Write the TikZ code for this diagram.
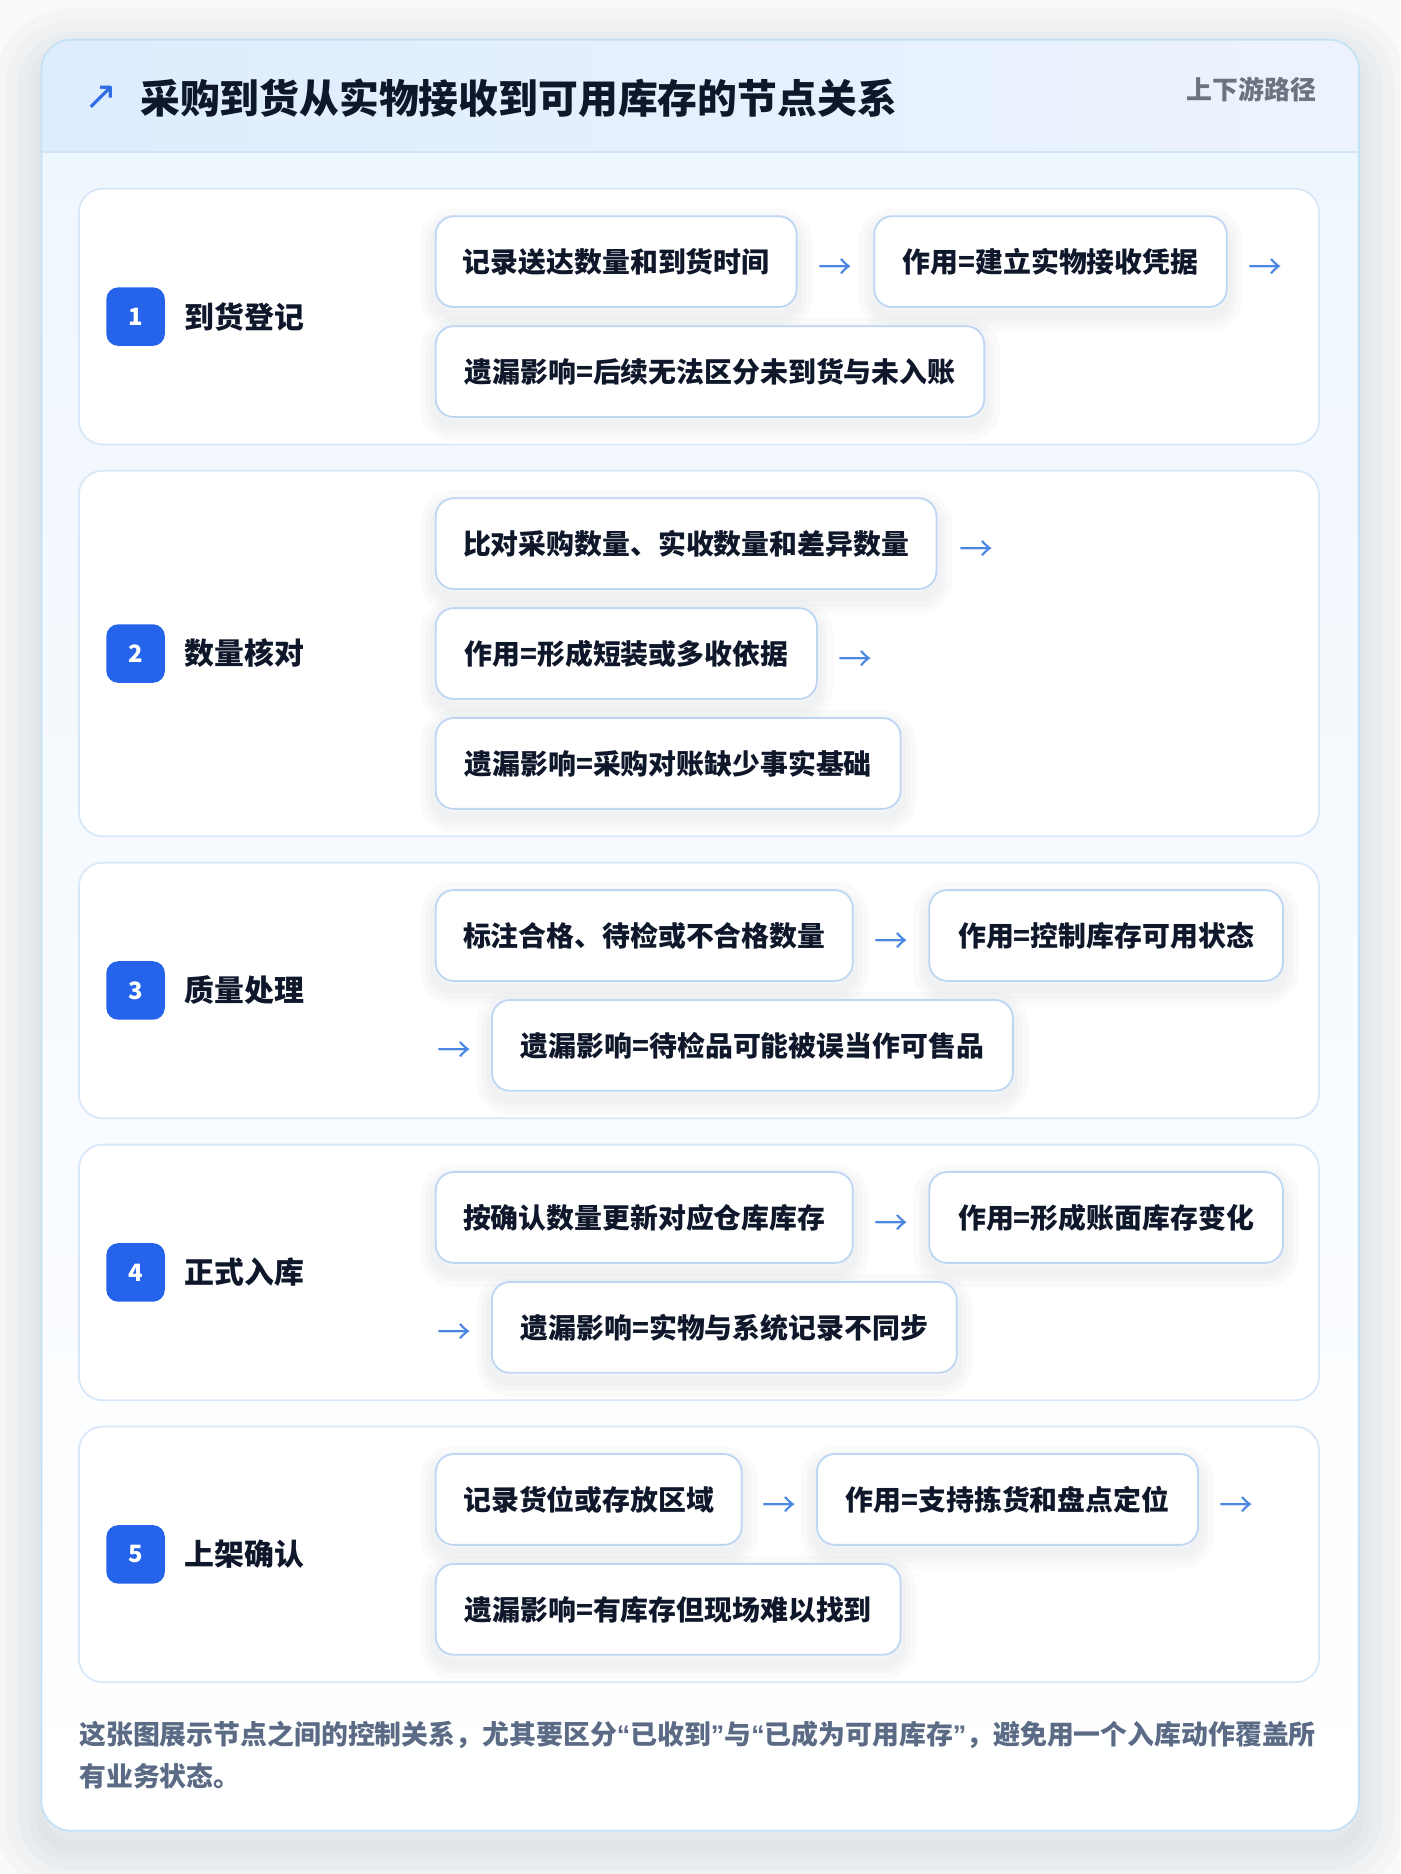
\documentclass[tikz,border=0pt]{standalone}
\usepackage{fontspec}
\setmainfont{Noto Sans CJK SC}
\newfontfamily\symf{DejaVu Sans}
\newfontfamily\quotef{Liberation Sans}
\definecolor{pagebg}{HTML}{F9FAFB}
\definecolor{cardborder}{HTML}{C4E2F6}
\definecolor{cardtop}{HTML}{EEF6FE}
\definecolor{hdrl}{HTML}{DDEDFD}
\definecolor{hdrr}{HTML}{EDF3FE}
\definecolor{hdrline}{HTML}{D2E5F8}
\definecolor{rowborder}{HTML}{D8E8F8}
\definecolor{boxborder}{HTML}{BED6F3}
\definecolor{badgeblue}{HTML}{2563EB}
\definecolor{ink}{HTML}{0F172A}
\definecolor{sidegray}{HTML}{6B7280}
\definecolor{footgray}{HTML}{5B6B85}
\definecolor{arrowblue}{HTML}{4A86E2}
\definecolor{iconblue}{HTML}{2F6BE3}
\definecolor{shade}{HTML}{1E293B}
\newcommand{\q}[1]{{\quotef #1}}
\tikzset{
  rowbox/.style={draw=rowborder, line width=0.9pt, fill=white, rounded corners=12pt,
    minimum width=622.8pt, inner sep=0pt},
  badge/.style={fill=badgeblue, rounded corners=6pt, minimum size=29.4pt, inner sep=0pt,
    text=white, font=\bfseries\fontsize{12}{14}\selectfont},
  rowlabel/.style={anchor=west, inner sep=0pt, text=ink, font=\bfseries\fontsize{15}{18}\selectfont},
  itembox/.style={draw=boxborder, line width=0.9pt, fill=white, rounded corners=9pt,
    minimum height=45.6pt, inner sep=0pt, anchor=west, text=ink,
    font=\bfseries\fontsize{14}{17}\selectfont,
    preaction={draw=shade, draw opacity=0.018, line width=16pt, transform canvas={yshift=-4pt}},
    preaction={draw=shade, draw opacity=0.018, line width=10pt, transform canvas={yshift=-4pt}},
    preaction={draw=shade, draw opacity=0.018, line width=5pt, transform canvas={yshift=-4pt}}},
  bw/.style={minimum width=#1*0.6pt},
  flowarr/.style={inner sep=0pt, text=arrowblue, font=\fontsize{17}{17}\selectfont},
  cardshadow/.style={draw=shade, draw opacity=0.02, line width=#1, transform canvas={yshift=-8pt}},
}
\begin{document}
\begin{tikzpicture}[x=0.6pt,y=-0.6pt]
\useasboundingbox (0,0) rectangle (1171.8,1568.5);
\fill[pagebg] (0,0) rectangle (1171.8,1568.5);
% card
\node[minimum width=661.2pt, minimum height=899.1pt, inner sep=0pt, rounded corners=15pt,
  preaction={cardshadow=48pt}, preaction={cardshadow=36pt}, preaction={cardshadow=24pt},
  preaction={cardshadow=14pt}, preaction={cardshadow=6pt},
  preaction={fill=white},
  top color=cardtop, bottom color=white]
  (card) at (586,782.75) {};
\begin{scope}
\clip[rounded corners=15pt] (card.north west) rectangle (card.south east);
\fill[left color=hdrl, right color=hdrr] (35,33.5) rectangle (1137,127);
\end{scope}
\draw[hdrline, line width=0.9pt] (35,127) -- (1137,127);
\draw[cardborder, line width=0.9pt, rounded corners=15pt] (card.north west) rectangle (card.south east);
% header
\node[inner sep=0pt, text=iconblue, font=\symf\fontsize{20}{20}\selectfont] (icon) at (85,82) {↗};
\node[anchor=west, inner sep=0pt, text=ink, font=\bfseries\fontsize{20}{24}\selectfont] (title) at (117,82) {采购到货从实物接收到可用库存的节点关系};
\node[anchor=east, inner sep=0pt, text=sidegray, font=\bfseries\fontsize{13}{15}\selectfont] (side) at (1102,75) {上下游路径};
% rows
\node[rowbox, minimum height=128.4pt] (row1) at (585,265) {};
\node[rowbox, minimum height=183.6pt] (row2) at (585,547) {};
\node[rowbox, minimum height=128.4pt] (row3) at (585,829) {};
\node[rowbox, minimum height=128.4pt] (row4) at (585,1065) {};
\node[rowbox, minimum height=128.4pt] (row5) at (585,1301) {};
% row 1
\node[badge] (bd1) at (113.5,265) {1};
\node[rowlabel] (lb1) at (154,265) {到货登记};
\node[itembox, bw=302] (r1b1) at (364,219) {记录送达数量和到货时间};
\node[flowarr] (r1a1) at (699,225) {→};
\node[itembox, bw=295] (r1b2) at (731,219) {作用=建立实物接收凭据};
\node[flowarr] (r1a2) at (1059,225) {→};
\node[itembox, bw=459] (r1b3) at (364,311) {遗漏影响=后续无法区分未到货与未入账};
% row 2
\node[badge] (bd2) at (113.5,547) {2};
\node[rowlabel] (lb2) at (154,547) {数量核对};
\node[itembox, bw=419] (r2b1) at (364,455) {比对采购数量、实收数量和差异数量};
\node[flowarr] (r2a1) at (817,461) {→};
\node[itembox, bw=319] (r2b2) at (364,547) {作用=形成短装或多收依据};
\node[flowarr] (r2a2) at (716,553) {→};
\node[itembox, bw=389] (r2b3) at (364,639) {遗漏影响=采购对账缺少事实基础};
% row 3
\node[badge] (bd3) at (113.5,829) {3};
\node[rowlabel] (lb3) at (154,829) {质量处理};
\node[itembox, bw=349] (r3b1) at (364,783) {标注合格、待检或不合格数量};
\node[flowarr] (r3a1) at (746,789) {→};
\node[itembox, bw=296] (r3b2) at (777,783) {作用=控制库存可用状态};
\node[flowarr] (r3a2) at (380,881) {→};
\node[itembox, bw=436] (r3b3) at (411,875) {遗漏影响=待检品可能被误当作可售品};
% row 4
\node[badge] (bd4) at (113.5,1065) {4};
\node[rowlabel] (lb4) at (154,1065) {正式入库};
\node[itembox, bw=349] (r4b1) at (364,1019) {按确认数量更新对应仓库库存};
\node[flowarr] (r4a1) at (746,1025) {→};
\node[itembox, bw=296] (r4b2) at (777,1019) {作用=形成账面库存变化};
\node[flowarr] (r4a2) at (380,1117) {→};
\node[itembox, bw=389] (r4b3) at (411,1111) {遗漏影响=实物与系统记录不同步};
% row 5
\node[badge] (bd5) at (113.5,1301) {5};
\node[rowlabel] (lb5) at (154,1301) {上架确认};
\node[itembox, bw=256] (r5b1) at (364,1255) {记录货位或存放区域};
\node[flowarr] (r5a1) at (652,1261) {→};
\node[itembox, bw=319] (r5b2) at (683,1255) {作用=支持拣货和盘点定位};
\node[flowarr] (r5a2) at (1035,1261) {→};
\node[itembox, bw=389] (r5b3) at (364,1347) {遗漏影响=有库存但现场难以找到};
% footer
\node[anchor=base west, inner sep=0pt, align=left, text=footgray,
  font=\bfseries\fontsize{13.5}{21}\selectfont] (note) at (66,1495)
  {这张图展示节点之间的控制关系，尤其要区分\q{“}已收到\q{”}与\q{“}已成为可用库存\q{”}，避免用一个入库动作覆盖所\\有业务状态。};
\end{tikzpicture}
\end{document}
